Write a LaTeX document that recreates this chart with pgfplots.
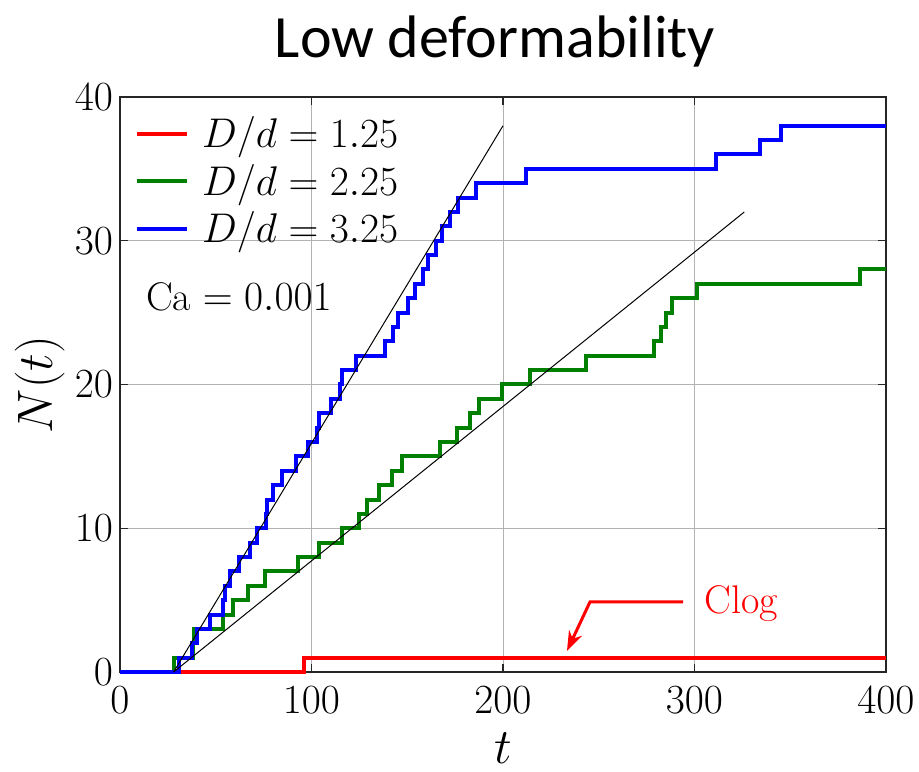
\documentclass[border=0pt]{standalone}
\usepackage{fontspec}
\usepackage{pgfplots}
\usepackage{pgfplotstable}
\pgfplotsset{compat=1.18}
\usetikzlibrary{arrows.meta}
\newfontfamily\titlefont{Carlito}
\definecolor{mgreen}{rgb}{0,0.5,0}
\definecolor{axgray}{gray}{0.15}

% D/d = 1.25
\pgfplotstableread{
t N
0 0
96 1
400 1
}\reddata

% D/d = 2.25
\pgfplotstableread{
t N
0 0
28 1
38 2
38.5 3
54 4
59 5
67 6
75.5 7
93 8
104 9
116 10
125 11
129 12
135 13
142 14
147.5 15
167 16
176 17
183 18
187.5 19
199.5 20
214 21
243.5 22
279 23
282.5 24
285 25
288 26
301.5 27
386.5 28
400 28
}\greendata

% D/d = 3.25
\pgfplotstableread{
t N
0 0
31 1
37.5 2
40 3
47 4
54 5
55 6
57.5 7
62 8
68 9
71.5 10
76 11
77 12
80 13
84.5 14
92 15
98 16
103 17
104 18
110 19
115 20
116 21
123 22
138.5 23
142.5 24
145 25
150.5 26
154 27
158 28
161 29
165 30
168 31
172.5 32
176.5 33
186 34
212 35
311 36
334 37
345 38
400 38
}\bluedata

\begin{document}
\begin{tikzpicture}
\begin{axis}[
  scale only axis,
  width=383pt, height=287.5pt,
  xmin=0, xmax=400, ymin=0, ymax=40,
  xtick distance=100, ytick distance=10,
  grid=major,
  major grid style={black!30, line width=0.5pt},
  axis line style={axgray, line width=0.6pt},
  tick style={axgray, line width=0.6pt},
  tick align=inside,
  major tick length=4pt,
  clip=false,
  tick label style={font=\fontsize{20}{24}\selectfont},
  xticklabel style={yshift=-4pt},
  label style={font=\fontsize{24}{28}\selectfont},
  xlabel={$t$}, ylabel={$N(t)$},
  xlabel style={at={(axis description cs:0.5,-0.132)}, anchor=center},
  ylabel style={at={(axis description cs:-0.1044,0.5)}, anchor=center},
  legend style={draw=none, fill=none, inner sep=0pt, outer sep=0pt,
    at={(axis description cs:0.0196,0.966)}, anchor=north west,
    font=\fontsize{20}{24}\selectfont, row sep=6.8pt,
    nodes={inner xsep=6.5pt, inner ysep=0pt}},
  legend cell align=left,
  legend image code/.code={\draw[#1] (0pt,0pt) -- (25pt,0pt);},
]
\addplot[red, line width=2pt, const plot] table {\reddata};
\addlegendentry{$D/d=1.25$}
\addplot[mgreen, line width=2pt, const plot] table {\greendata};
\addlegendentry{$D/d=2.25$}
\addplot[blue, line width=2pt, const plot] table {\bluedata};
\addlegendentry{$D/d=3.25$}
\addplot[black, line width=0.5pt, forget plot] coordinates {(28,0) (200,38)};
\addplot[black, line width=0.5pt, forget plot] coordinates {(28,0) (326,32)};

\node[anchor=west, font=\fontsize{20}{24}\selectfont] at (axis cs:10,26.1) {$\mathrm{Ca}=0.001$};
\draw[red, line width=1.5pt, -{Stealth[length=10pt,width=7pt]}]
  (axis cs:294,4.87) -- (axis cs:245.4,4.87) -- (axis cs:233.4,1.46);
\node[red, anchor=base west, inner sep=0pt, font=\fontsize{20}{24}\selectfont] at (axis cs:305,4.1) {Clog};
\end{axis}
\node[font=\titlefont\fontsize{30}{36}\selectfont, anchor=base, inner sep=0pt]
  at ([xshift=-4pt,yshift=19.5pt]current axis.north) {Low deformability};
\pgfresetboundingbox
\path ([shift={(-60pt,-49.5pt)}]current axis.south west) rectangle ([shift={(16.5pt,48.5pt)}]current axis.north east);
\end{tikzpicture}
\end{document}
